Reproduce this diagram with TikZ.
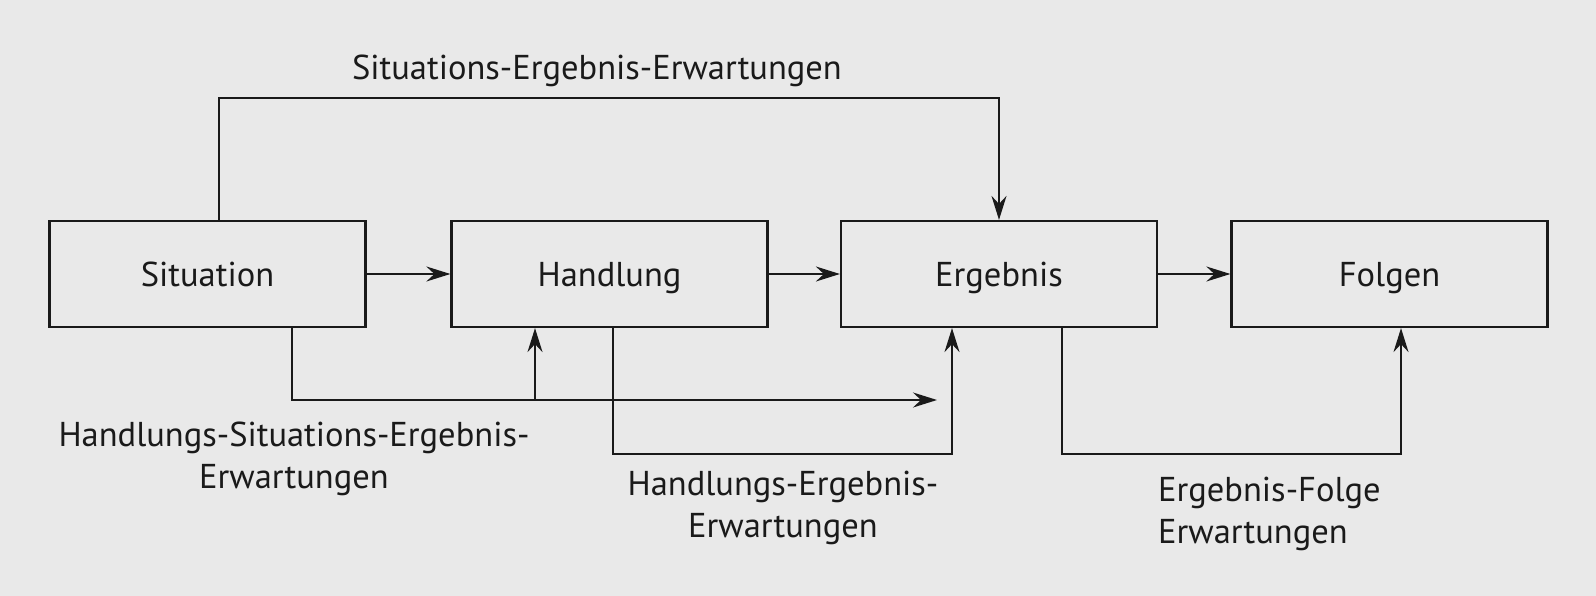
\documentclass[tikz,border=0pt]{standalone}
\usepackage{fontspec}
\setmainfont{PT Sans}
\usetikzlibrary{arrows.meta}
\definecolor{bg}{HTML}{E9E9E9}
\definecolor{ink}{HTML}{1A1A1A}
\tikzset{
  box/.style={draw=ink, line width=2.2pt, minimum width=316pt, minimum height=106pt,
              inner sep=0pt, text height=24pt, text depth=0pt, font=\fontsize{34.5}{42}\selectfont, text=ink},
  conn/.style={draw=ink, line width=2pt},
  arr/.style={conn, -{Stealth[length=24pt,width=15pt,inset=8pt]}},
  lbl/.style={inner sep=0pt, font=\fontsize{34.5}{42}\selectfont, text=ink}
}
\begin{document}
\begin{tikzpicture}[x=1pt,y=-1pt]
\fill[bg] (0,0) rectangle (1596,596);
\useasboundingbox (0,0) rectangle (1596,596);

\node[box] (s) at (207.5,274) {Situation};
\node[box] (h) at (609.5,274) {Handlung};
\node[box] (e) at (999,274) {Ergebnis};
\node[box] (f) at (1389.5,274) {Folgen};

\draw[arr] (s) -- (h);
\draw[arr] (h) -- (e);
\draw[arr] (e) -- (f);

% top connector
\coordinate (top) at (999,98);
\draw[arr] ([xshift=11.5pt]s.north) |- (top) -- (e.north);

% Handlungs-Situations-Ergebnis connector
\coordinate (tip1) at (937,400);
\coordinate (j1) at (535,400);
\draw[arr] ([xshift=84.5pt]s.south) |- (tip1);
\draw[arr] (j1) -- (j1 |- h.south);

% Handlungs-Ergebnis connector
\coordinate (c2) at (952,454);
\draw[arr] ([xshift=3.5pt]h.south) |- (c2) -- (c2 |- e.south);

% Ergebnis-Folge connector
\coordinate (c3) at (1401,454);
\draw[arr] ([xshift=63pt]e.south) |- (c3) -- (c3 |- f.south);

\node[lbl, anchor=base] (l1) at (597,80) {Situations-Ergebnis-Erwartungen};
\node[lbl, anchor=base, align=center] (l2) at (294,488) {Handlungs-Situations-Ergebnis-\\Erwartungen};
\node[lbl, anchor=base, align=center] (l3) at (783,537) {Handlungs-Ergebnis-\\Erwartungen};
\node[lbl, anchor=base west, align=left] (l4) at (1158,543) {Ergebnis-Folge\\Erwartungen};
\end{tikzpicture}
\end{document}
